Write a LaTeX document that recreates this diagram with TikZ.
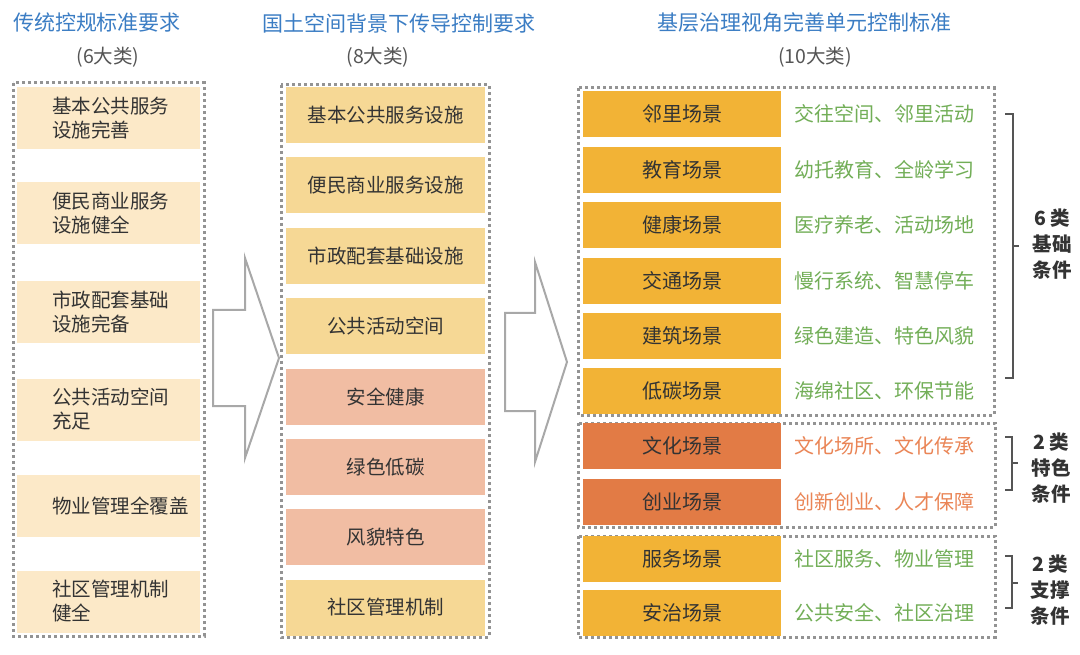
\documentclass[tikz,border=0pt]{standalone}
\usepackage{fontspec}
\setmainfont{Noto Sans CJK SC}
\definecolor{hblue}{HTML}{3B7DC4}
\definecolor{subgray}{HTML}{555555}
\definecolor{txt}{HTML}{333333}
\definecolor{cream}{HTML}{FCE9C8}
\definecolor{myel}{HTML}{F6D895}
\definecolor{mpink}{HTML}{F1BDA3}
\definecolor{gold}{HTML}{F2B336}
\definecolor{dorange}{HTML}{E27B45}
\definecolor{tgreen}{HTML}{72AE57}
\definecolor{torange}{HTML}{EA8556}
\definecolor{frame}{HTML}{939393}
\definecolor{arrowgray}{HTML}{A8A8A8}
\definecolor{brk}{HTML}{555555}
\tikzset{
  dotframe/.style={draw=frame, line width=3pt, dash pattern=on 3pt off 3pt},
  boxL/.style={fill=cream, draw=none, minimum width=183pt, minimum height=62pt, inner sep=0pt},
  boxM/.style={draw=none, minimum width=199pt, minimum height=56pt, inner sep=0pt},
  boxR/.style={draw=none, minimum width=198pt, minimum height=46pt, inner sep=0pt},
  ltext/.style={anchor=west, align=left, text=txt, inner sep=0pt, font=\fontsize{19.5}{24}\selectfont},
  ctext/.style={text=txt, inner sep=0pt, font=\fontsize{19.5}{24}\selectfont},
  rtext/.style={text=txt, inner sep=0pt, font=\fontsize{20}{24}\selectfont},
  dtext/.style={anchor=west, inner sep=0pt, font=\fontsize{20}{24}\selectfont},
  head/.style={text=hblue, inner sep=0pt, font=\fontsize{21}{24}\selectfont},
  subhead/.style={text=subgray, inner sep=0pt, font=\fontsize{19.5}{24}\selectfont},
  blabel/.style={text=txt, inner sep=0pt, align=center, font=\fontsize{19.5}{26}\selectfont\bfseries},
  bigarrow/.style={draw=arrowgray, line width=2pt, fill=white, line join=miter},
  bracket/.style={draw=brk, line width=1.2pt}
}
\begin{document}
\begin{tikzpicture}[x=1pt,y=-1pt]
\useasboundingbox[fill=white] (0,0) rectangle (1080,655);

% headers
\node[head] (h1) at (97,23) {传统控规标准要求};
\node[subhead] (s1) at (108,57) {(6大类)};
\node[head] (h2) at (399,23) {国土空间背景下传导控制要求};
\node[subhead] (s2) at (378,57) {(8大类)};
\node[head] (h3) at (804,23) {基层治理视角完善单元控制标准};
\node[subhead] (s3) at (815,57) {(10大类)};

% left column
\draw[dotframe] (13,83) rectangle (204,636);
\node[boxL] (l1) at (108.5,118) {};
\node[boxL] (l2) at (108.5,213) {};
\node[boxL] (l3) at (108.5,312) {};
\node[boxL] (l4) at (108.5,409.5) {};
\node[boxL] (l5) at (108.5,506) {};
\node[boxL] (l6) at (108.5,601.5) {};
\node[ltext] (lt1) at (52,118) {基本公共服务\\设施完善};
\node[ltext] (lt2) at (52,213) {便民商业服务\\设施健全};
\node[ltext] (lt3) at (52,312) {市政配套基础\\设施完备};
\node[ltext] (lt4) at (52,409.5) {公共活动空间\\充足};
\node[ltext] (lt5) at (52,506) {物业管理全覆盖};
\node[ltext] (lt6) at (52,601.5) {社区管理机制\\健全};

% arrows
\draw[bigarrow] (213,310) -- (245,310) -- (245,258) -- (279,358) -- (245,458) -- (245,406) -- (213,406) -- cycle;
\draw[bigarrow] (505,313) -- (535,313) -- (535,262) -- (567,362) -- (535,462) -- (535,411) -- (505,411) -- cycle;

% middle column
\draw[dotframe] (281,85) rectangle (489,637);
\node[boxM, fill=myel] (m1) at (385.5,115) {};
\node[boxM, fill=myel] (m2) at (385.5,185) {};
\node[boxM, fill=myel] (m3) at (385.5,256) {};
\node[boxM, fill=myel] (m4) at (385.5,326) {};
\node[boxM, fill=mpink] (m5) at (385.5,397) {};
\node[boxM, fill=mpink] (m6) at (385.5,467) {};
\node[boxM, fill=mpink] (m7) at (385.5,537) {};
\node[boxM, fill=myel] (m8) at (385.5,607.5) {};
\node[ctext] (mt1) at (m1) {基本公共服务设施};
\node[ctext] (mt2) at (m2) {便民商业服务设施};
\node[ctext] (mt3) at (m3) {市政配套基础设施};
\node[ctext] (mt4) at (m4) {公共活动空间};
\node[ctext] (mt5) at (m5) {安全健康};
\node[ctext] (mt6) at (m6) {绿色低碳};
\node[ctext] (mt7) at (m7) {风貌特色};
\node[ctext] (mt8) at (m8) {社区管理机制};

% right column frames
\draw[dotframe] (578,88) rectangle (994,415);
\draw[dotframe] (578,423) rectangle (995,527);
\draw[dotframe] (578,536) rectangle (995,637);

% right boxes
\node[boxR, fill=gold] (r1) at (682,114) {};
\node[boxR, fill=gold] (r2) at (682,170) {};
\node[boxR, fill=gold] (r3) at (682,225) {};
\node[boxR, fill=gold] (r4) at (682,281) {};
\node[boxR, fill=gold] (r5) at (682,336) {};
\node[boxR, fill=gold] (r6) at (682,391) {};
\node[boxR, fill=dorange] (r7) at (682,446) {};
\node[boxR, fill=dorange] (r8) at (682,501.5) {};
\node[boxR, fill=gold] (r9) at (682,558.5) {};
\node[boxR, fill=gold] (r10) at (682,613) {};
\node[rtext] (rt1) at (r1) {邻里场景};
\node[rtext] (rt2) at (r2) {教育场景};
\node[rtext] (rt3) at (r3) {健康场景};
\node[rtext] (rt4) at (r4) {交通场景};
\node[rtext] (rt5) at (r5) {建筑场景};
\node[rtext] (rt6) at (r6) {低碳场景};
\node[rtext] (rt7) at (r7) {文化场景};
\node[rtext] (rt8) at (r8) {创业场景};
\node[rtext] (rt9) at (r9) {服务场景};
\node[rtext] (rt10) at (r10) {安治场景};

\node[dtext, text=tgreen] (d1) at (794,114) {交往空间、邻里活动};
\node[dtext, text=tgreen] (d2) at (794,170) {幼托教育、全龄学习};
\node[dtext, text=tgreen] (d3) at (794,225) {医疗养老、活动场地};
\node[dtext, text=tgreen] (d4) at (794,281) {慢行系统、智慧停车};
\node[dtext, text=tgreen] (d5) at (794,336) {绿色建造、特色风貌};
\node[dtext, text=tgreen] (d6) at (794,391) {海绵社区、环保节能};
\node[dtext, text=torange] (d7) at (794,446) {文化场所、文化传承};
\node[dtext, text=torange] (d8) at (794,501.5) {创新创业、人才保障};
\node[dtext, text=tgreen] (d9) at (794,558.5) {社区服务、物业管理};
\node[dtext, text=tgreen] (d10) at (794,613) {公共安全、社区治理};

% brackets
\draw[bracket] (1005,114) -- (1013,114) -- (1013,378) -- (1005,378);
\draw[bracket] (1013,246) -- (1019,246);
\draw[bracket] (1005,437) -- (1012,437) -- (1012,490) -- (1005,490);
\draw[bracket] (1012,463) -- (1018,463);
\draw[bracket] (1005,556) -- (1012,556) -- (1012,608) -- (1005,608);
\draw[bracket] (1012,583) -- (1018,583);

\node[blabel] (b1) at (1052,244) {6\hspace{4pt}类\\基础\\条件};
\node[blabel] (b2) at (1051,468) {2\hspace{4pt}类\\特色\\条件};
\node[blabel] (b3) at (1050,590) {2\hspace{4pt}类\\支撑\\条件};
\end{tikzpicture}
\end{document}
